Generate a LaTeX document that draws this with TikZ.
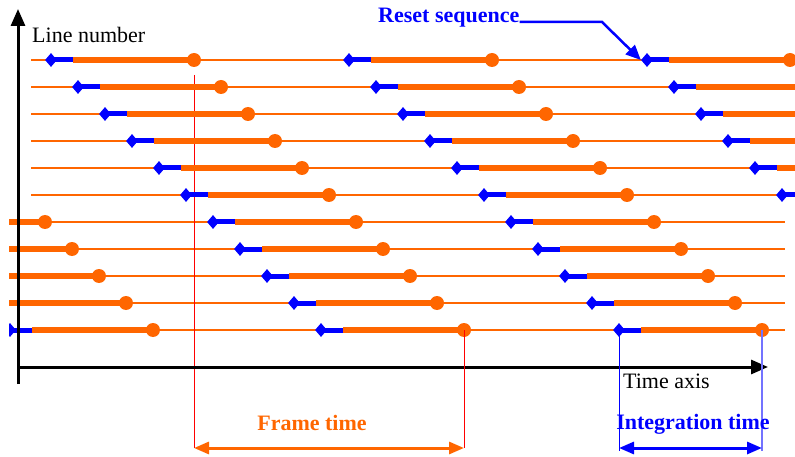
\documentclass[tikz,border=0pt]{standalone}
\usepackage{fontspec}
\setmainfont{Liberation Serif}
\usetikzlibrary{shapes.geometric,arrows.meta}
\definecolor{org}{RGB}{255,102,0}
\definecolor{lblue}{RGB}{115,115,255}
\newcommand\rowseg[4]{%
  \node[rst] (d#1) at ({#2},{#4}) {};
  \node[endpt] (c#1) at ({#3},{#4}) {};
  \draw[thickorange] ([xshift=22pt]d#1.center) -- (c#1.center);
  \draw[thickblue] (d#1.center) -- ++(22,0);
}
\begin{document}
\begin{tikzpicture}[x=1pt,y=-1pt,
  thinrow/.style={org,line width=1.8pt},
  thickorange/.style={org,line width=5.5pt},
  thickblue/.style={blue,line width=5pt},
  rst/.style={diamond,fill=blue,inner sep=0pt,minimum width=12pt,minimum height=14pt},
  endpt/.style={circle,fill=org,inner sep=0pt,minimum size=14pt},
  axis/.style={line width=3pt,-{Triangle[length=17pt,width=14pt]}},
  lbl/.style={inner sep=0pt,font=\fontsize{22}{24}\selectfont},
  blbl/.style={inner sep=0pt,font=\fontsize{22}{24}\selectfont\bfseries},
  redline/.style={red,line width=1pt},
  framearrow/.style={org,line width=3pt,{Triangle[length=15pt,width=12pt]}-{Triangle[length=15pt,width=12pt]}},
  intarrow/.style={blue,line width=3pt,{Triangle[length=15pt,width=12pt]}-{Triangle[length=15pt,width=12pt]}},
  resetarrow/.style={blue,line width=2.5pt,-{Triangle[length=15pt,width=13pt]}}
]
\useasboundingbox (0,0) rectangle (795,457);
\coordinate (fT) at (194,75);
\coordinate (fL) at (194,448);
\coordinate (iBot) at (0,451);
\coordinate (rbend) at (602,22);
\coordinate (ybot) at (18,384);
\coordinate (ytop) at (18,9);
\coordinate (xl) at (17,367);
\coordinate (xr) at (768,367);
\begin{scope}
  \clip (9,0) rectangle (795,457);
  \foreach \i in {0,...,5} \draw[thinrow] (31,{60+27*\i}) -- (795,{60+27*\i});
  \foreach \i in {6,...,10} \draw[thinrow] (9,{60+27*\i}) -- (785,{60+27*\i});
  \draw[redline] (fT) -- (fL);
  \foreach \i in {0,...,10}{
    \rowseg{A\i}{51+27*\i}{194+27*\i}{60+27*\i}
    \rowseg{B\i}{349+27*\i}{492+27*\i}{60+27*\i}
  }
  \foreach \i in {0,...,5}{\rowseg{C\i}{647+27*\i}{790+27*\i}{60+27*\i}}
  \foreach \i in {6,...,10}{\rowseg{Z\i}{27*\i-260}{27*\i-117}{60+27*\i}}
\end{scope}
% axes
\draw[axis] (ybot) -- (ytop);
\draw[axis] (xl) -- (xr);
\node[lbl,anchor=base west] (ln) at (32,43) {Line number};
\node[lbl,anchor=base west] (ta) at (623,388) {Time axis};
% frame time
\draw[redline] (cA10.center) -- (cA10 |- fL);
\draw[framearrow] (fL) -- (cA10 |- fL);
\node[blbl,text=org,anchor=base] (ft) at (312,430) {Frame time};
% integration time
\draw[blue,line width=1pt] (dB10.center) -- (dB10 |- iBot);
\draw[lblue,line width=1.2pt] (cB10.center) -- (cB10 |- iBot);
\draw[intarrow] (dB10 |- fL) -- (cB10 |- fL);
\node[blbl,text=blue,anchor=base] (it) at (693,429) {Integration time};
% reset sequence
\node[blbl,text=blue,anchor=base west] (reset) at (378,23) {Reset sequence};
\draw[resetarrow] (reset.east |- rbend) -- (rbend) -- (dC0.west);
\end{tikzpicture}
\end{document}
